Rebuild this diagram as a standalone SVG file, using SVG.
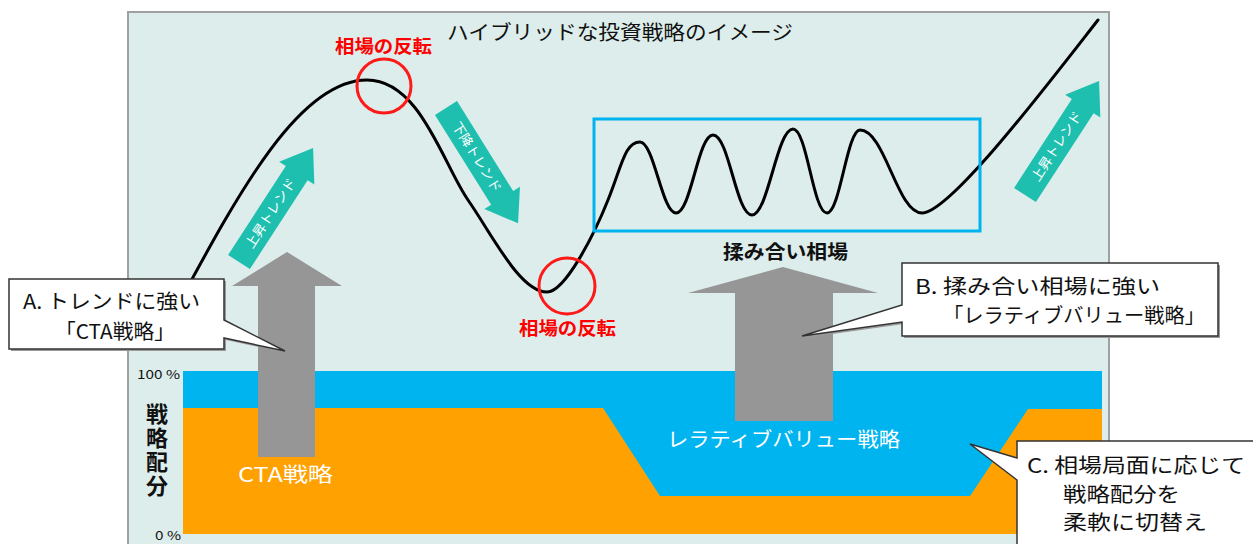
<svg xmlns="http://www.w3.org/2000/svg" width="1253" height="544" viewBox="0 0 1253 544">
<defs>
<style>
.jp{font-family:"Noto Sans CJK JP","Noto Sans",sans-serif;}
.t20{font-size:20px;fill:#111;}
.red{font-size:18px;fill:#ff0000;font-weight:bold;}
.teal{fill:#1fbfb0;}
.tealtxt{font-size:13px;fill:#fff;text-anchor:middle;}
.gray{fill:#969696;}
.wht{font-size:20px;fill:#fff;}
.call{fill:#fff;stroke:#333;stroke-width:1.5;}
.shadow{fill:#9a9a9a;}
.circ{fill:none;stroke:#ff1a1a;stroke-width:3;}
</style>
<path id="tarrow" d="M0,-13 L106,-13 L106,-21 L136,0 L106,21 L106,13 L0,13 Z"/>
</defs>
<rect x="0" y="0" width="1253" height="544" fill="#fff"/>
<g id="panel">
<rect x="128" y="12" width="981" height="545" fill="#dcedeb" stroke="#a0a0a0" stroke-width="2"/>
<text class="jp t20" x="447" y="40" textLength="346" lengthAdjust="spacingAndGlyphs">ハイブリッドな投資戦略のイメージ</text>
</g>
<g id="allocation">
<rect x="183" y="371" width="919" height="163" fill="#00b4ef"/>
<path d="M183,408 L603,408 L660,496 L970,496 L1028,409 L1102,409 L1102,534 L183,534 Z" fill="#ffa100"/>
<text class="jp" x="137" y="379" font-size="12" fill="#111" textLength="43" lengthAdjust="spacingAndGlyphs">100 %</text>
<text class="jp" x="155" y="540" font-size="12" fill="#111" textLength="26" lengthAdjust="spacingAndGlyphs">0 %</text>
<text class="jp" x="157" y="403" font-size="22" font-weight="bold" fill="#111" writing-mode="tb" letter-spacing="2">戦略配分</text>
</g>
<g id="connectors">
<path id="arrowA" class="gray" d="M258,457 L258,286 L232,286 L287,252 L342,286 L315,286 L315,457 Z"/>
<path id="arrowB" class="gray" d="M735,421 L735,293 L688,293 L783,267 L878,293 L833,293 L833,421 Z"/>
</g>
<g id="strategy-labels">
<text class="jp wht" x="238" y="482" textLength="95" lengthAdjust="spacingAndGlyphs">CTA戦略</text>
<text class="jp wht" x="667" y="447" textLength="233" lengthAdjust="spacingAndGlyphs">レラティブバリュー戦略</text>
</g>
<g id="price-curve">
<path d="M178,305 C240,190 300,80 367,80 C420,80 443,164 468,200 C493,236 520,292 547,292 C565,292 594,235 608,200 C622,165 625,142 640,142 C654,142 662,213 676,213 C691,213 698,135 713,135 C729,135 736,215 752,215 C768,215 777,129 793,129 C807,129 813,213 827,213 C840,213 847,130 860,130 C885,130 897,213 922,213 C950,213 1048,84 1098,20" fill="none" stroke="#000" stroke-width="3" stroke-linecap="round"/>
</g>
<g id="range-box">
<rect x="594" y="119" width="386" height="112" fill="none" stroke="#00b4ef" stroke-width="3"/>
<text class="jp" x="723" y="259" font-size="19" font-weight="bold" fill="#111" textLength="125" lengthAdjust="spacingAndGlyphs">揉み合い相場</text>
</g>
<g id="reversal-top">
<circle class="circ" cx="384" cy="86" r="27"/>
<text class="jp red" x="335" y="53" textLength="97" lengthAdjust="spacingAndGlyphs">相場の反転</text>
</g>
<g id="reversal-bottom">
<circle class="circ" cx="567" cy="286" r="28"/>
<text class="jp red" x="519" y="335" textLength="97" lengthAdjust="spacingAndGlyphs">相場の反転</text>
</g>
<g id="trend-up-left" transform="translate(239,262) rotate(-57)">
<use href="#tarrow" class="teal"/>
<text class="jp tealtxt" x="58" y="4.5" textLength="80" lengthAdjust="spacingAndGlyphs">上昇トレンド</text>
</g>
<g id="trend-down" transform="translate(446,108) rotate(58)">
<use href="#tarrow" class="teal"/>
<text class="jp tealtxt" x="58" y="4.5" textLength="80" lengthAdjust="spacingAndGlyphs">下降トレンド</text>
</g>
<g id="trend-up-right" transform="translate(1025,195) rotate(-57)">
<use href="#tarrow" class="teal"/>
<text class="jp tealtxt" x="58" y="4.5" textLength="80" lengthAdjust="spacingAndGlyphs">上昇トレンド</text>
</g>
<g id="callout-a">
<path class="shadow" d="M11,281 H226 V322 L287,353 L226,340 V351 H11 Z"/>
<path class="call" d="M9,279 H224 V320 L285,351 L224,338 V349 H9 Z"/>
<text class="jp t20" x="23" y="309" textLength="177" lengthAdjust="spacingAndGlyphs">A. トレンドに強い</text>
<text class="jp t20" x="55" y="339" textLength="120" lengthAdjust="spacingAndGlyphs">「CTA戦略」</text>
</g>
<g id="callout-b">
<path class="shadow" d="M904,265 H1220 V338 H904 V324 L804,338 L904,307 Z"/>
<path class="call" d="M902,263 H1218 V336 H902 V322 L802,336 L902,305 Z"/>
<text class="jp t20" x="915" y="294" textLength="245" lengthAdjust="spacingAndGlyphs">B. 揉み合い相場に強い</text>
<text class="jp t20" x="943" y="323" textLength="262" lengthAdjust="spacingAndGlyphs">「レラティブバリュー戦略」</text>
</g>
<g id="callout-c">
<path class="shadow" d="M1019,443 H1262 V560 H1019 V482 L972,446 L1019,460 Z"/>
<path class="call" d="M1017,441 H1262 V560 H1017 V480 L970,444 L1017,458 Z"/>
<text class="jp t20" x="1027" y="473" textLength="218" lengthAdjust="spacingAndGlyphs">C. 相場局面に応じて</text>
<text class="jp t20" x="1063" y="502" textLength="117" lengthAdjust="spacingAndGlyphs">戦略配分を</text>
<text class="jp t20" x="1063" y="530" textLength="144" lengthAdjust="spacingAndGlyphs">柔軟に切替え</text>
</g>
</svg>
